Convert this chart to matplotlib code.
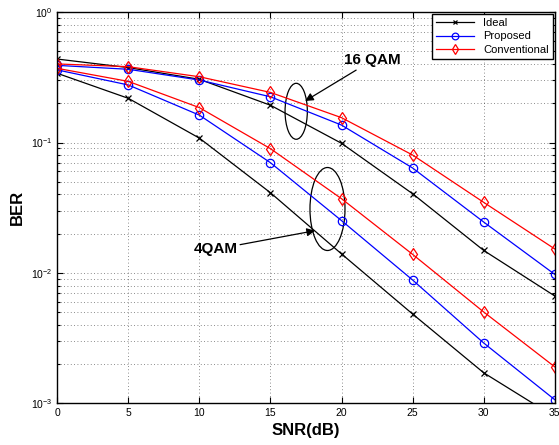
import matplotlib
matplotlib.use("Agg")
import matplotlib.pyplot as plt
from matplotlib.patches import Ellipse
from matplotlib.ticker import LogLocator, NullFormatter, MultipleLocator

snr = [0, 5, 10, 15, 20, 25, 30, 35]

ideal_16qam = [0.436, 0.375, 0.305, 0.193, 0.0986, 0.0405, 0.0149, 0.00667]
prop_16qam = [0.39, 0.364, 0.301, 0.224, 0.136, 0.0638, 0.0246, 0.00977]
conv_16qam = [0.40, 0.381, 0.319, 0.242, 0.155, 0.0802, 0.0348, 0.0153]

ideal_4qam = [0.339, 0.218, 0.108, 0.0412, 0.0140, 0.00485, 0.00172, 0.00079]
prop_4qam = [0.36, 0.276, 0.162, 0.070, 0.0252, 0.00884, 0.00291, 0.00107]
conv_4qam = [0.37, 0.294, 0.185, 0.0897, 0.0371, 0.0139, 0.00503, 0.00191]

plt.rcParams['font.family'] = ['Liberation Sans', 'DejaVu Sans']
plt.rcParams['mathtext.fontset'] = 'custom'
plt.rcParams['mathtext.rm'] = 'Liberation Sans'
plt.rcParams['mathtext.it'] = 'Liberation Sans:italic'

fig = plt.figure(figsize=(5.59, 4.45), dpi=100)
ax = fig.add_axes([0.1025, 0.0933, 0.8898, 0.8797])

lw = 0.9
kx = dict(color='black', marker='x', ms=4, mew=0.9, lw=lw)
ko = dict(color='blue', marker='o', ms=6, mfc='none', mew=0.9, lw=lw)
kd = dict(color='red', marker='d', ms=6.5, mfc='none', mew=0.9, lw=lw)

ax.plot(snr, ideal_16qam, label='Ideal', **kx)
ax.plot(snr, prop_16qam, label='Proposed', **ko)
ax.plot(snr, conv_16qam, label='Conventional', **kd)
ax.plot(snr, ideal_4qam, **kx)
ax.plot(snr, prop_4qam, **ko)
ax.plot(snr, conv_4qam, **kd)

ax.set_yscale('log')
ax.set_xlim(0, 35)
ax.set_ylim(1e-3, 1)
ax.xaxis.set_major_locator(MultipleLocator(5))
ax.yaxis.set_major_locator(LogLocator(base=10, numticks=10))
ax.yaxis.set_minor_locator(LogLocator(base=10, subs=range(2, 10), numticks=20))
ax.yaxis.set_minor_formatter(NullFormatter())

ax.grid(True, which='major', linestyle=(0, (1, 3)), color='black', lw=0.6, alpha=0.6)
ax.grid(True, which='minor', axis='y', linestyle=(0, (1, 3)), color='black', lw=0.6, alpha=0.6)
ax.tick_params(which='both', direction='in', top=True, right=True, labelsize=7.5, width=0.8)
ax.tick_params(which='major', length=4)
ax.tick_params(which='minor', length=2)
for s in ax.spines.values():
    s.set_linewidth(1.0)

ax.set_xlabel('SNR(dB)', fontsize=12, fontweight='bold', labelpad=3)
ax.set_ylabel('BER', fontsize=12, fontweight='bold')
ax.yaxis.set_label_coords(-0.066, 0.5)

leg = ax.legend(loc='upper right', fontsize=8, fancybox=False, edgecolor='black',
                framealpha=1, borderaxespad=0.15, handlelength=3.4, labelspacing=0.3,
                borderpad=0.4, markerscale=0.8)
leg.get_frame().set_linewidth(1.0)

ax.add_patch(Ellipse((0.4803, 0.7464), 0.0448, 0.143, transform=ax.transAxes,
                     fill=False, ec='black', lw=0.9))
ax.add_patch(Ellipse((0.5432, 0.4968), 0.0704, 0.212, transform=ax.transAxes,
                     fill=False, ec='black', lw=0.9))

ax.annotate('16 QAM', xy=(0.4982, 0.7727), xytext=(0.5764, 0.8587),
            xycoords='axes fraction', textcoords='axes fraction',
            fontsize=11, fontweight='bold', ha='left', va='bottom',
            arrowprops=dict(arrowstyle='-|>', color='black', lw=0.9,
                            mutation_scale=12, shrinkA=0, shrinkB=0))
ax.annotate('4QAM', xy=(0.5181, 0.4414), xytext=(0.3619, 0.3939),
            xycoords='axes fraction', textcoords='axes fraction',
            fontsize=11, fontweight='bold', ha='right', va='center',
            arrowprops=dict(arrowstyle='-|>', color='black', lw=0.9,
                            mutation_scale=12, shrinkA=0, shrinkB=0))

fig.savefig('out.png', dpi=100)
